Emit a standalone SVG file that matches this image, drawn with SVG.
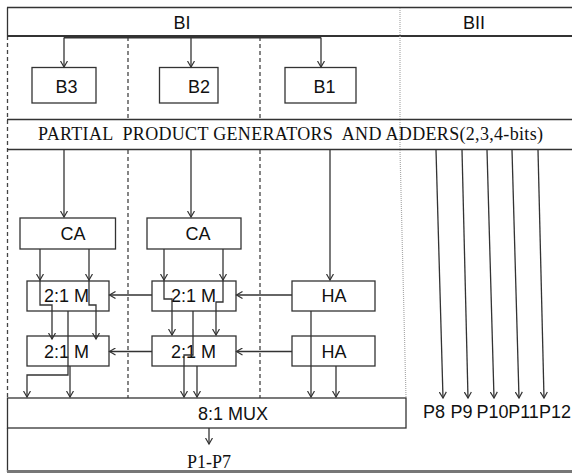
<svg xmlns="http://www.w3.org/2000/svg" width="572" height="473" viewBox="0 0 572 473">
<style>
.ln{stroke:#333;stroke-width:1.3;fill:none}
.box{stroke:#333;stroke-width:1.3;fill:#fff}
.dash{stroke:#444;stroke-width:1.3;stroke-dasharray:4 3;fill:none}
.sep{stroke:#aaa;stroke-width:1.2;stroke-dasharray:1 1;fill:none}
.s{font-family:"Liberation Sans",Arial,sans-serif;font-size:18px;fill:#111}
.t{font-family:"Liberation Serif","Times New Roman",serif;font-size:18px;fill:#111}
.a{marker-end:url(#ah)}
</style>
<defs>
<marker id="ah" viewBox="0 0 8 8" markerWidth="8" markerHeight="8" refX="6.5" refY="4" orient="auto" markerUnits="userSpaceOnUse">
<path d="M0.5,0.5 L6.5,4 L0.5,7.5" fill="none" stroke="#333" stroke-width="1.2"/>
</marker>
</defs>
<rect width="572" height="473" fill="#fff"/>
<g id="frame">
<line class="ln" x1="7" y1="7.5" x2="572" y2="7.5"/>
<line class="ln" x1="7.5" y1="7.5" x2="7.5" y2="36"/>
<line class="dash" x1="7.5" y1="36" x2="7.5" y2="398"/>
<line class="ln" x1="7.5" y1="428" x2="7.5" y2="472"/>
<line class="ln" x1="7" y1="36" x2="572" y2="36" style="stroke-width:1.8"/>
<line class="ln" x1="7" y1="119.5" x2="572" y2="119.5"/>
<line class="ln" x1="7" y1="149.5" x2="572" y2="149.5"/>
<line x1="7" y1="471.5" x2="572" y2="471.5" stroke="#777" stroke-width="3"/>
<line class="dash" x1="128" y1="37" x2="128" y2="119"/>
<line class="dash" x1="260" y1="37" x2="260" y2="119"/>
<line class="dash" x1="128" y1="150" x2="128" y2="398"/>
<line class="dash" x1="260" y1="150" x2="260" y2="398"/>
<polyline class="sep" points="400,8 400,150 406,398"/>
<text class="s" x="182" y="29" text-anchor="middle">BI</text>
<text class="s" x="474" y="29" text-anchor="middle">BII</text>
<text class="t" x="290.5" y="140" text-anchor="middle" textLength="505" lengthAdjust="spacing" xml:space="preserve">PARTIAL  PRODUCT GENERATORS  AND ADDERS(2,3,4-bits)</text>
</g>
<g id="B3"><rect class="box" x="32" y="67.5" width="64" height="35.5"/><text class="s" x="66.5" y="93" text-anchor="middle">B3</text></g>
<g id="B2"><rect class="box" x="159.5" y="67.5" width="58.5" height="35.5"/><text class="s" x="199" y="93" text-anchor="middle">B2</text></g>
<g id="B1"><rect class="box" x="285" y="67.5" width="71" height="35.5"/><text class="s" x="324.5" y="93" text-anchor="middle">B1</text></g>
<g id="CA1"><rect class="box" x="20" y="218" width="95.5" height="31"/><text class="s" x="73" y="239.5" text-anchor="middle">CA</text></g>
<g id="CA2"><rect class="box" x="147" y="218" width="94" height="31"/><text class="s" x="198" y="239.5" text-anchor="middle">CA</text></g>
<g id="M1a"><rect class="box" x="27" y="281" width="82" height="30"/><text class="s" x="66.5" y="302" text-anchor="middle">2:1 M</text></g>
<g id="M2a"><rect class="box" x="152" y="281" width="84" height="30"/><text class="s" x="193.5" y="302" text-anchor="middle">2:1 M</text></g>
<g id="HA1"><rect class="box" x="292" y="281" width="83" height="30"/><text class="s" x="334" y="302" text-anchor="middle">HA</text></g>
<g id="M1b"><rect class="box" x="27" y="336" width="82" height="30"/><text class="s" x="66.5" y="357.5" text-anchor="middle">2:1 M</text></g>
<g id="M2b"><rect class="box" x="152" y="336" width="84" height="30"/><text class="s" x="193.5" y="357.5" text-anchor="middle">2:1 M</text></g>
<g id="HA2"><rect class="box" x="292" y="336" width="83" height="30"/><text class="s" x="334" y="357.5" text-anchor="middle">HA</text></g>
<g id="MUX"><rect class="box" x="7.5" y="398" width="398.5" height="30"/><text class="s" x="233" y="420" text-anchor="middle">8:1 MUX</text></g>
<g id="outputs">
<text class="t" x="209" y="468" text-anchor="middle">P1-P7</text>
<text class="s" x="434" y="418" text-anchor="middle">P8</text>
<text class="s" x="461.5" y="418" text-anchor="middle">P9</text>
<text class="s" x="492.5" y="418" text-anchor="middle">P10</text>
<text class="s" x="523.5" y="418" text-anchor="middle">P11</text>
<text class="s" x="555" y="418" text-anchor="middle">P12</text>
</g>
<g id="connectors">
<polyline class="ln" points="64,37.5 321,37.5" style="stroke-width:1.8"/>
<line class="ln a" x1="64" y1="37.5" x2="64" y2="67"/>
<line class="ln a" x1="191" y1="37.5" x2="191" y2="67"/>
<line class="ln a" x1="321" y1="37.5" x2="321" y2="67"/>
<line class="ln a" x1="64" y1="150" x2="64" y2="217"/>
<line class="ln a" x1="191" y1="150" x2="191" y2="217"/>
<line class="ln a" x1="330" y1="150" x2="330" y2="280"/>
<line class="ln a" x1="40" y1="249" x2="40" y2="280"/>
<polyline class="ln a" points="40,280 40,305 52,305 52,339"/>
<line class="ln a" x1="89" y1="249" x2="89" y2="280"/>
<polyline class="ln a" points="89,280 89,305 96,305 96,339"/>
<polyline class="ln a" points="68,311 68,375 27,375 27,397"/>
<line class="ln a" x1="70" y1="366" x2="70" y2="397"/>
<line class="ln a" x1="164" y1="249" x2="164" y2="280"/>
<polyline class="ln a" points="164,280 164,299 172,299 172,335"/>
<line class="ln a" x1="223" y1="249" x2="223" y2="280"/>
<polyline class="ln a" points="223,280 223,302 216,302 216,335"/>
<polyline class="ln a" points="193,311 193,355 184,355 184,397"/>
<line class="ln a" x1="197" y1="366" x2="197" y2="397"/>
<line class="ln a" x1="311" y1="311" x2="311" y2="397"/>
<line class="ln a" x1="336" y1="366" x2="336" y2="397"/>
<line class="ln a" x1="292" y1="295" x2="236.5" y2="295"/>
<line class="ln a" x1="152" y1="295" x2="109.5" y2="295"/>
<line class="ln a" x1="292" y1="351.5" x2="236.5" y2="351.5"/>
<line class="ln a" x1="152" y1="351.5" x2="109.5" y2="351.5"/>
<line class="ln a" x1="209" y1="428" x2="209" y2="444"/>
<line class="ln a" x1="436" y1="150" x2="443" y2="398"/>
<line class="ln a" x1="462" y1="150" x2="468" y2="398"/>
<line class="ln a" x1="487" y1="150" x2="494" y2="398"/>
<line class="ln a" x1="512" y1="150" x2="519" y2="398"/>
<line class="ln a" x1="538" y1="150" x2="544" y2="398"/>
</g>
</svg>
